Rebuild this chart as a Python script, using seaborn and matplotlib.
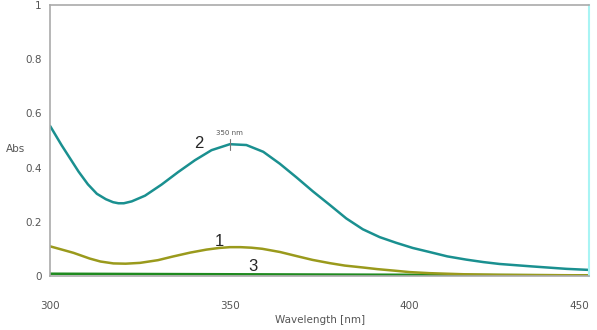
import numpy as np
import matplotlib
matplotlib.use('Agg')
import matplotlib.pyplot as plt
import seaborn as sns

#### DATA

# curve 2 (teal)
wl_2 = [300, 303.2, 307.9, 310.5, 313, 315.5, 317.5, 319, 320.5, 322.7, 326.4, 331, 335.6, 340.3,
        344.9, 350, 354.6, 359.3, 363.9, 368.5, 373.1, 377.8, 382.4, 387, 391.7, 396.3, 400.9,
        405.6, 410.5, 415.8, 420.5, 425, 434, 443.6, 450]
abs_2 = [0.553, 0.482, 0.385, 0.338, 0.303, 0.283, 0.272, 0.268, 0.268, 0.275, 0.296, 0.337, 0.383,
         0.427, 0.464, 0.486, 0.483, 0.458, 0.414, 0.364, 0.312, 0.262, 0.212, 0.172, 0.143, 0.122,
         0.103, 0.088, 0.072, 0.060, 0.051, 0.044, 0.035, 0.026, 0.022]

# curve 1 (olive)
wl_1 = [300, 303, 306.5, 311, 314, 317.6, 321, 325, 330, 334, 339, 343.5, 347, 350, 353, 356,
        359, 364, 368.6, 373, 377.8, 382, 387, 391, 396, 400, 405.6, 415, 425, 435, 450]
abs_1 = [0.109, 0.098, 0.085, 0.064, 0.053, 0.046, 0.045, 0.048, 0.058, 0.071, 0.086, 0.097,
         0.103, 0.106, 0.106, 0.104, 0.100, 0.088, 0.073, 0.059, 0.047, 0.038, 0.031, 0.025,
         0.019, 0.014, 0.010, 0.006, 0.004, 0.003, 0.002]

# curve 3 (green)
wl_3 = [300, 325, 350, 375, 400, 425, 450]
abs_3 = [0.008, 0.007, 0.006, 0.005, 0.004, 0.003, 0.002]

x_ticks = [300, 350, 400, 450]
y_ticks = [0, 0.2, 0.4, 0.6, 0.8, 1]
y_ticklabels = ['0', '0.2', '0.4', '0.6', '0.8', '1']

peak_wl = 350
peak_abs = 0.486

#### PLOT

sns.set_style("white")
plt.rcParams['font.family'] = ['DejaVu Sans']

fg = plt.figure(figsize=(5.97, 3.30), dpi=100)
ax = fg.add_axes([0.084, 0.164, 0.903, 0.821])

sns.lineplot(x=wl_3, y=abs_3, color='#1f8a1f', linewidth=1.8, ax=ax)
sns.lineplot(x=wl_1, y=abs_1, color='#9a9a1c', linewidth=1.8, ax=ax)
sns.lineplot(x=wl_2, y=abs_2, color='#1a9090', linewidth=1.8, ax=ax)

ax.set_xlim(300, 450)
ax.set_ylim(0, 1)
ax.set_xticks(x_ticks)
ax.set_xticklabels([str(v) for v in x_ticks])
ax.set_yticks(y_ticks)
ax.set_yticklabels(y_ticklabels)
ax.set_yticks(np.arange(0.1, 1.0, 0.2), minor=True)

ax.tick_params(axis='both', which='both', direction='in', color='#888888',
               labelcolor='#555555', labelsize=7.5, length=3, width=0.8)
ax.tick_params(axis='x', pad=18)
ax.tick_params(axis='y', pad=6)
ax.get_xticklabels()[-1].set_horizontalalignment('right')

for side in ['left', 'top', 'bottom']:
    ax.spines[side].set_color('#aaaaaa')
    ax.spines[side].set_linewidth(1.2)
ax.spines['right'].set_color('#a8f4f4')
ax.spines['right'].set_linewidth(1.5)

ax.set_xlabel('Wavelength [nm]', fontsize=7.5, color='#555555', labelpad=3)
ax.set_ylabel('Abs', fontsize=7.5, color='#555555', rotation=0, labelpad=12)
ax.yaxis.set_label_coords(-0.065, 0.45)

# peak marker
ax.plot([peak_wl, peak_wl], [peak_abs - 0.02, peak_abs + 0.02], color='#777777', linewidth=0.8)
ax.text(peak_wl, peak_abs + 0.03, '350 nm', fontsize=5, color='#555555', ha='center', va='bottom')

# curve labels
ax.text(341.5, 0.49, '2', fontsize=12, ha='center', va='center', family='Liberation Sans')
ax.text(347, 0.128, '1', fontsize=12, ha='center', va='center', family='Liberation Sans')
ax.text(356.5, 0.034, '3', fontsize=12, ha='center', va='center', family='Liberation Sans')

fg.savefig('out.png', dpi=100)
